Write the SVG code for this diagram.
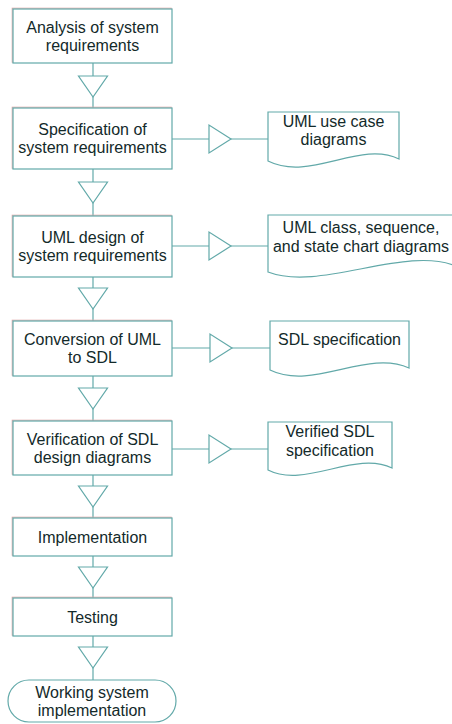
<svg xmlns="http://www.w3.org/2000/svg" width="452" height="724" viewBox="0 0 452 724">
<style>
.bg{fill:#ffffff}
.box{fill:#ffffff;stroke:#62a9a9;stroke-width:1.2}
.ghost{fill:none;stroke:#e2a9aa;stroke-width:1}
.doc{fill:#ffffff;stroke:#62a9a9;stroke-width:1.2}
.ln{fill:none;stroke:#62a9a9;stroke-width:1.2}
.tri{fill:#ffffff;stroke:#62a9a9;stroke-width:1.2}
text{font-family:"Liberation Sans",Arial,sans-serif;font-size:16px;fill:#132a2a;text-anchor:middle}
</style>
<defs>
<path id="tv" d="M-14.5,0 L14.5,0 L0,21 Z"/>
<path id="th" d="M0,-14 L0,14 L22,0 Z"/>
</defs>
<rect class="bg" x="0" y="0" width="452" height="724"/>

<g id="connectors">
<line class="ln" x1="93" y1="63" x2="93" y2="108"/>
<use href="#tv" class="tri" x="93" y="76"/>
<line class="ln" x1="93" y1="169" x2="93" y2="216"/>
<use href="#tv" class="tri" x="93" y="182"/>
<line class="ln" x1="93" y1="277" x2="93" y2="321"/>
<use href="#tv" class="tri" x="93" y="288"/>
<line class="ln" x1="93" y1="376" x2="93" y2="421"/>
<use href="#tv" class="tri" x="93" y="388"/>
<line class="ln" x1="93" y1="475" x2="93" y2="518"/>
<use href="#tv" class="tri" x="93" y="486"/>
<line class="ln" x1="93" y1="556" x2="93" y2="598"/>
<use href="#tv" class="tri" x="93" y="567"/>
<line class="ln" x1="93" y1="636" x2="93" y2="680"/>
<use href="#tv" class="tri" x="93" y="647"/>

<line class="ln" x1="172" y1="139" x2="268" y2="139"/>
<use href="#th" class="tri" x="209" y="139"/>
<line class="ln" x1="172" y1="246" x2="268" y2="246"/>
<use href="#th" class="tri" x="209" y="246"/>
<line class="ln" x1="172" y1="348" x2="270" y2="348"/>
<use href="#th" class="tri" x="210" y="348"/>
<line class="ln" x1="172" y1="449" x2="268" y2="449"/>
<use href="#th" class="tri" x="209" y="449"/>
</g>

<g id="n1">
<rect class="ghost" x="12.2" y="8.2" width="159" height="54"/>
<rect class="box" x="13" y="9" width="159" height="54"/>
<text x="92.5" y="32.5">Analysis of system</text>
<text x="92.5" y="50.5">requirements</text>
</g>
<g id="n2">
<rect class="ghost" x="12.2" y="107.2" width="159" height="61"/>
<rect class="box" x="13" y="108" width="159" height="61"/>
<text x="92.5" y="135">Specification of</text>
<text x="92.5" y="153">system requirements</text>
</g>
<g id="n3">
<rect class="ghost" x="12.2" y="215.2" width="159" height="61"/>
<rect class="box" x="13" y="216" width="159" height="61"/>
<text x="92.5" y="243">UML design of</text>
<text x="92.5" y="261">system requirements</text>
</g>
<g id="n4">
<rect class="ghost" x="12.2" y="320.2" width="159" height="55"/>
<rect class="box" x="13" y="321" width="159" height="55"/>
<text x="92.5" y="345">Conversion of UML</text>
<text x="92.5" y="363">to SDL</text>
</g>
<g id="n5">
<rect class="ghost" x="12.2" y="420.2" width="159" height="54"/>
<rect class="box" x="13" y="421" width="159" height="54"/>
<text x="92.5" y="444.5">Verification of SDL</text>
<text x="92.5" y="462.5">design diagrams</text>
</g>
<g id="n6">
<rect class="ghost" x="12.2" y="517.2" width="159" height="38"/>
<rect class="box" x="13" y="518" width="159" height="38"/>
<text x="92.5" y="542.5">Implementation</text>
</g>
<g id="n7">
<rect class="ghost" x="12.2" y="597.2" width="159" height="38"/>
<rect class="box" x="13" y="598" width="159" height="38"/>
<text x="92.5" y="622.5">Testing</text>
</g>
<g id="n8">
<rect class="box" x="8" y="680" width="168" height="42" rx="21" ry="21"/>
<text x="92" y="697.5">Working system</text>
<text x="92" y="715.5">implementation</text>
</g>

<g id="d1">
<path class="doc" d="M268,112 H399 V159 C360,140 310,182 268,161 Z"/>
<text x="333.5" y="127">UML use case</text>
<text x="333.5" y="145">diagrams</text>
</g>
<g id="d2">
<path class="doc" d="M268,215 H456 V266 C405,245 320,292 268,272 Z"/>
<text x="361" y="233">UML class, sequence,</text>
<text x="361" y="252">and state chart diagrams</text>
</g>
<g id="d3">
<path class="doc" d="M270,321 H409 V368 C367,349 313,391 270,370 Z"/>
<text x="339.5" y="345">SDL specification</text>
</g>
<g id="d4">
<path class="doc" d="M268,422 H392 V468 C355,450 305,489 268,470 Z"/>
<text x="330" y="437">Verified SDL</text>
<text x="330" y="456">specification</text>
</g>
</svg>
